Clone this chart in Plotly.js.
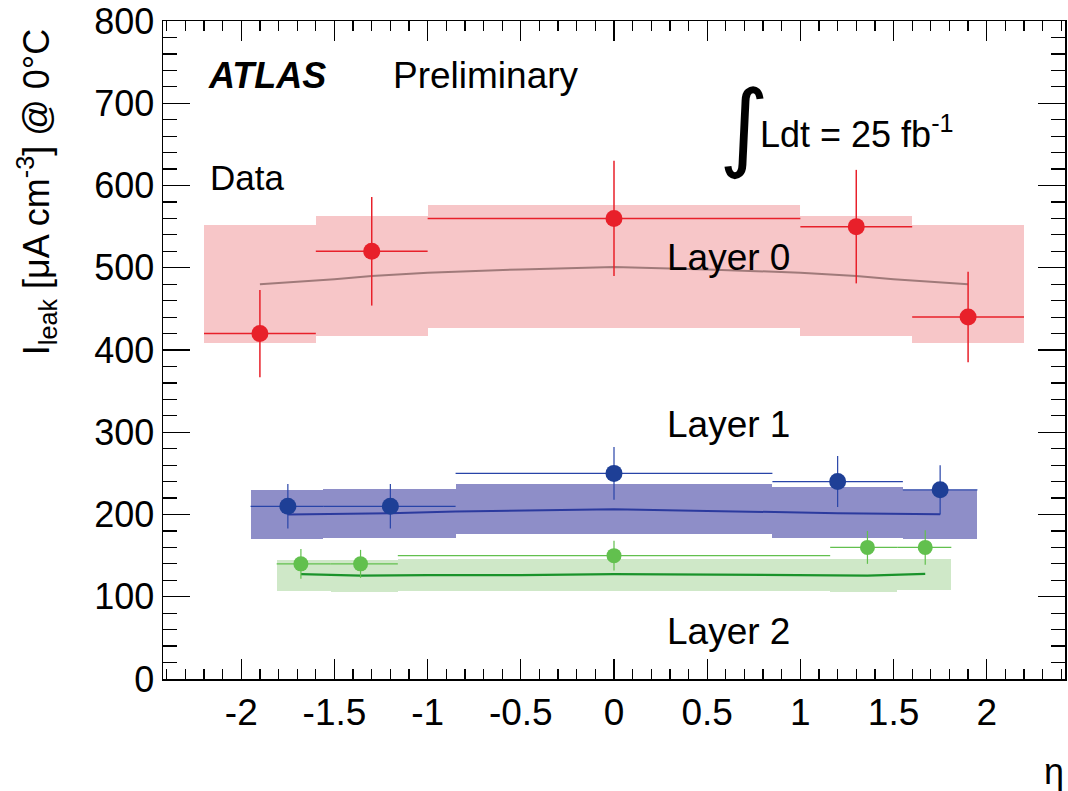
<!DOCTYPE html>
<html>
<head>
<meta charset="utf-8">
<script src="https://cdn.plot.ly/plotly-3.0.1.min.js"></script>
<style>html,body{margin:0;padding:0;background:#fff;}#chart{width:1068px;height:791px;}</style>
</head>
<body>
<div id="chart"></div>
<script>
// ---- Layer 0 (red) ----
const l0Edges = [-2.2, -1.6, -1.0, 1.0, 1.6, 2.2];
const l0BandLow = [408, 417, 427, 417, 409];
const l0BandHigh = [552, 563, 576, 563, 552];
const l0X = [-1.9, -1.3, 0, 1.3, 1.9];
const l0Y = [420, 520, 560, 550, 440];
const l0Err = [53, 66, 70, 69, 55];
const l0ModelX = [-1.9, -1.5, -1.3, -1.0, -0.5, 0, 0.5, 1.0, 1.3, 1.5, 1.9];
const l0ModelY = [480, 486, 490, 494, 498, 501, 498, 494, 490, 486, 480];

// ---- Layer 1 (blue) ----
const l1Edges = [-1.95, -1.56, -0.85, 0.85, 1.55, 1.95];
const l1BandLow = [170, 171, 176, 172, 170];
const l1BandHigh = [230, 231, 237, 233, 230];
const l1X = [-1.75, -1.2, 0, 1.2, 1.75];
const l1Y = [210, 210, 250, 240, 230];
const l1Err = [27, 27, 32, 31, 30];
const l1ModelX = [-1.75, -1.2, -0.85, -0.5, 0, 0.5, 0.85, 1.2, 1.75];
const l1ModelY = [200, 201.6, 203.6, 205, 206.5, 204.4, 203, 201.6, 200.4];

// ---- Layer 2 (green) ----
const l2Edges = [-1.81, -1.52, -1.16, 1.16, 1.52, 1.81];
const l2BandLow = [107, 106, 107, 106, 108];
const l2BandHigh = [145, 145, 146, 146, 146];
const l2X = [-1.68, -1.36, 0, 1.36, 1.67];
const l2Y = [140, 140, 150, 160, 160];
const l2Err = [18, 17, 18, 20, 21];
const l2ModelX = [-1.68, -1.36, -1.0, -0.5, 0, 0.5, 1.0, 1.36, 1.67];
const l2ModelY = [127.5, 125.8, 126.3, 126.3, 127.5, 126.7, 125.8, 125.8, 127.8];

const xTickVals = [-2, -1.5, -1, -0.5, 0, 0.5, 1, 1.5, 2];
const yTickVals = [0, 100, 200, 300, 400, 500, 600, 700, 800];

function band(edges, low, high, color) {
  const centers = [], widths = [], heights = [];
  for (let i = 0; i < low.length; i++) {
    centers.push((edges[i] + edges[i + 1]) / 2);
    widths.push(edges[i + 1] - edges[i]);
    heights.push(high[i] - low[i]);
  }
  return {type: 'bar', x: centers, y: heights, base: low, width: widths,
    marker: {color: color, line: {width: 0}}, hoverinfo: 'skip'};
}
function points(edges, xs, ys, errs, color, ecolor, size, thick) {
  const plus = [], minus = [];
  for (let i = 0; i < xs.length; i++) {
    minus.push(xs[i] - edges[i]);
    plus.push(edges[i + 1] - xs[i]);
  }
  return {type: 'scatter', mode: 'markers', x: xs, y: ys,
    marker: {color: color, size: size},
    error_x: {type: 'data', symmetric: false, array: plus, arrayminus: minus, color: ecolor, thickness: thick, width: 0},
    error_y: {type: 'data', array: errs, color: ecolor, thickness: thick, width: 0}};
}
function model(xs, ys, color, w) {
  return {type: 'scatter', mode: 'lines', x: xs, y: ys, line: {color: color, width: w}};
}

const data = [
  band(l0Edges, l0BandLow, l0BandHigh, '#f7c6c8'),
  band(l1Edges, l1BandLow, l1BandHigh, '#8e8ec8'),
  band(l2Edges, l2BandLow, l2BandHigh, '#cfe8c8'),
  model(l0ModelX, l0ModelY, '#a07a7a', 2),
  model(l1ModelX, l1ModelY, '#2b3a9e', 2),
  model(l2ModelX, l2ModelY, '#1a932b', 2.2),
  points(l0Edges, l0X, l0Y, l0Err, '#e8202a', '#e8202a', 17, 1.5),
  points(l1Edges, l1X, l1Y, l1Err, '#1e3f96', '#2844a8', 17, 1.2),
  points(l2Edges, l2X, l2Y, l2Err, '#62c04e', '#62c04e', 15, 1.2)
];

const FONT = 'Liberation Sans, Arial, Helvetica, sans-serif';
function px2x(px) { return (px - 163) / 902; }
function py2y(py) { return (679.3 - py) / 658.6; }
function ann(text, px, py, size, opts) {
  return Object.assign({text: text, xref: 'paper', yref: 'paper', x: px2x(px), y: py2y(py),
    xanchor: 'left', yanchor: 'middle', showarrow: false,
    font: {family: FONT, size: size, color: '#000'}}, opts || {});
}

const layout = {
  width: 1068, height: 791,
  margin: {l: 163, r: 3, t: 21, b: 112},
  paper_bgcolor: '#fff', plot_bgcolor: '#fff',
  showlegend: false, barmode: 'overlay', bargap: 0,
  xaxis: {range: [-2.42, 2.42], tickvals: xTickVals, ticktext: xTickVals.map(String),
    ticks: 'inside', ticklen: 20, tickwidth: 1.3, tickcolor: '#000',
    minor: {dtick: 0.1, tick0: 0, ticks: 'inside', ticklen: 10, tickwidth: 1.2, tickcolor: '#000'},
    showline: true, linecolor: '#000', linewidth: 1.5, mirror: 'ticks',
    showgrid: false, zeroline: false,
    tickfont: {family: FONT, size: 37, color: '#000'}},
  yaxis: {range: [0, 800], tickvals: yTickVals, ticktext: yTickVals.map(String),
    ticks: 'inside', ticklen: 27, tickwidth: 1.3, tickcolor: '#000',
    minor: {dtick: 20, tick0: 0, ticks: 'inside', ticklen: 14, tickwidth: 1.2, tickcolor: '#000'},
    showline: true, linecolor: '#000', linewidth: 1.5, mirror: 'ticks',
    showgrid: false, zeroline: false,
    tickfont: {family: FONT, size: 36, color: '#000'}},
  annotations: [
    ann('<b><i>ATLAS</i></b>', 206, 75, 36),
    ann('Preliminary', 391, 75, 37),
    ann('Data', 208, 177, 35),
    ann('∫', 717, 126, 96, {font: {family: 'DejaVu Sans, sans-serif', size: 96, color: '#000'}}),
    ann('Ldt = 25 fb<sup>-1</sup>', 758, 132, 36),
    ann('Layer 0', 665, 257, 37),
    ann('Layer 1', 665, 425, 37),
    ann('Layer 2', 665, 632, 37),
    ann('η', 1054, 772, 36, {xanchor: 'center'}),
    ann('I<sub>leak</sub> [μA cm<sup>-3</sup>] @ 0°C', 36, 192, 36, {xanchor: 'center', textangle: -90})
  ]
};

Plotly.newPlot('chart', data, layout, {displayModeBar: false, staticPlot: true});
</script>
</body>
</html>
